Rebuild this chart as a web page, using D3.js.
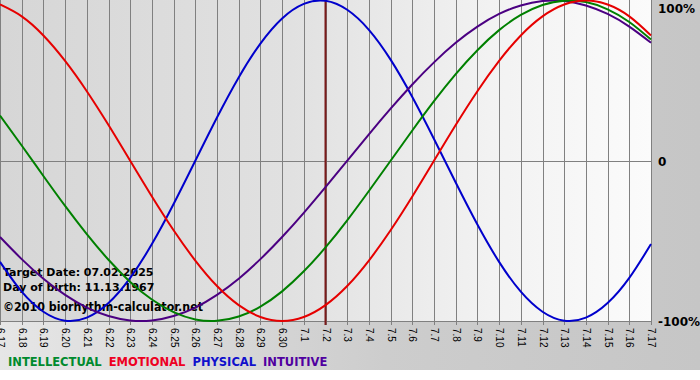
<!DOCTYPE html>
<html><head><meta charset="utf-8">
<script src="https://cdn.jsdelivr.net/npm/d3@7"></script>
<style>html,body{margin:0;padding:0;background:#fff;}svg{display:block;}</style>
</head><body>
<script>
const days = ["6.17","6.18","6.19","6.20","6.21","6.22","6.23","6.24","6.25","6.26","6.27","6.28","6.29","6.30",
  "7.1","7.2","7.3","7.4","7.5","7.6","7.7","7.8","7.9","7.10","7.11","7.12","7.13","7.14","7.15","7.16","7.17"];
const physical = [-0.631,-0.817,-0.942,-0.998,-0.979,-0.888,-0.731,-0.520,-0.270,0,0.270,0.520,0.731,0.888,0.979,0.998,
  0.942,0.817,0.631,0.398,0.136,-0.136,-0.398,-0.631,-0.817,-0.942,-0.998,-0.979,-0.888,-0.731,-0.520];
const emotional = [0.975,0.901,0.782,0.623,0.434,0.223,0,-0.223,-0.434,-0.623,-0.782,-0.901,-0.975,-1,-0.975,-0.901,
  -0.782,-0.623,-0.434,-0.223,0,0.223,0.434,0.623,0.782,0.901,0.975,1,0.975,0.901,0.782];
const intellectual = [0.282,0.095,-0.095,-0.282,-0.458,-0.618,-0.756,-0.866,-0.945,-0.990,-0.999,-0.972,-0.910,-0.815,-0.690,-0.541,
  -0.372,-0.189,0,0.189,0.372,0.541,0.690,0.815,0.910,0.972,0.999,0.990,0.945,0.866,0.756];
const intuitive = [-0.476,-0.614,-0.736,-0.837,-0.916,-0.969,-0.997,-0.997,-0.969,-0.916,-0.837,-0.736,-0.614,-0.476,-0.325,-0.165,
  0,0.165,0.325,0.476,0.614,0.736,0.837,0.916,0.969,0.997,0.997,0.969,0.916,0.837,0.736];
const yTicks = [1, 0, -1];
const yTickLabels = ["100%", "0", "-100%"];
const targetDay = "7.2";
const infoLines = ["Target Date: 07.02.2025", "Day of birth: 11.13.1967"];
const credit = "\u00A92010 biorhythm-calculator.net";
const legendNames = ["INTELLECTUAL", "EMOTIONAL", "PHYSICAL", "INTUITIVE"];

const seriesList = [
  {name: "physical", values: physical, color: "#0000cc"},
  {name: "intuitive", values: intuitive, color: "#4b0082"},
  {name: "intellectual", values: intellectual, color: "#008000"},
  {name: "emotional", values: emotional, color: "#e60000"}
];
const legendColors = {"INTELLECTUAL": "#008a2e", "EMOTIONAL": "#ee0022", "PHYSICAL": "#1010cc", "INTUITIVE": "#5000a0"};

const W = 700, H = 380;
const plot = {left: 0, top: 0, right: 651, bottom: 321};
const svg = d3.select("body").append("svg").attr("width", W).attr("height", H);
const defs = svg.append("defs");

const bgGrad = defs.append("linearGradient").attr("id", "bg").attr("x1", 0).attr("x2", 1).attr("y1", 0).attr("y2", 0);
bgGrad.append("stop").attr("offset", 0).attr("stop-color", "#e6e6e6");
bgGrad.append("stop").attr("offset", 0.55).attr("stop-color", "#cdcdcd");
bgGrad.append("stop").attr("offset", 1).attr("stop-color", "#c6c6c6");
const plotGrad = defs.append("linearGradient").attr("id", "pg").attr("x1", 0).attr("x2", 1).attr("y1", 0).attr("y2", 0);
plotGrad.append("stop").attr("offset", 0).attr("stop-color", "#d6d6d6");
plotGrad.append("stop").attr("offset", 0.45).attr("stop-color", "#e1e1e1");
plotGrad.append("stop").attr("offset", 0.75).attr("stop-color", "#f2f2f2");
plotGrad.append("stop").attr("offset", 1).attr("stop-color", "#fbfbfb");

svg.append("rect").attr("x", 0).attr("y", 0).attr("width", W).attr("height", 370).attr("fill", "url(#bg)");
svg.append("rect").attr("x", plot.left).attr("y", plot.top).attr("width", plot.right - plot.left)
  .attr("height", plot.bottom - plot.top).attr("fill", "url(#pg)");

const x = d3.scalePoint().domain(days).range([plot.left, plot.right]);
const y = d3.scaleLinear().domain([-1, 1]).range([plot.bottom, plot.top + 0.5]);

// vertical grid lines extending below the plot as ticks
const gx = svg.append("g").attr("transform", `translate(0,${plot.bottom + 4})`);
days.forEach(d => {
  gx.append("line").attr("x1", Math.round(x(d)) + 0.5).attr("x2", Math.round(x(d)) + 0.5)
    .attr("y1", -(plot.bottom + 4 - plot.top)).attr("y2", 0)
    .attr("stroke", "#808080").attr("stroke-width", 1);
});
// tick labels (rotated)
days.forEach(d => {
  svg.append("text").attr("transform", `translate(${Math.round(x(d)) + 0.5},${plot.bottom + 7}) rotate(90)`)
    .attr("dy", "0.35em").attr("text-anchor", "start")
    .attr("font-family", "Liberation Sans, Arial, sans-serif")
    .attr("font-size", 10).attr("fill", "#000")
    .text(d);
});
// bottom border
svg.append("line").attr("x1", plot.left).attr("x2", plot.right + 1).attr("y1", plot.bottom + 0.5).attr("y2", plot.bottom + 0.5)
  .attr("stroke", "#808080");
// zero line
svg.append("line").attr("x1", plot.left).attr("x2", plot.right + 1).attr("y1", Math.round(y(0)) + 0.5).attr("y2", Math.round(y(0)) + 0.5)
  .attr("stroke", "#808080");

// right labels
yTicks.forEach((t, i) => {
  svg.append("text").attr("x", 658).attr("y", Math.min(Math.max(y(t), 8), 321) + 1).attr("dy", "0.35em")
    .attr("font-family", "DejaVu Sans, Verdana, sans-serif").attr("font-weight", "bold").attr("font-size", 12)
    .attr("fill", "#000").text(yTickLabels[i]);
});

// target line
svg.append("line").attr("x1", x(targetDay)).attr("x2", x(targetDay)).attr("y1", plot.top).attr("y2", plot.bottom + 4)
  .attr("stroke", "#7a1a1a").attr("stroke-width", 2);

// info text
const infoFont = "DejaVu Sans, Verdana, sans-serif";
infoLines.forEach((t, i) => {
  svg.append("text").attr("x", 3).attr("y", 276 + i * 15).attr("font-family", infoFont)
    .attr("font-weight", "bold").attr("font-size", 11).attr("fill", "#000").text(t);
});
svg.append("text").attr("x", 3).attr("y", 311).attr("font-family", infoFont)
  .attr("font-weight", "bold").attr("font-size", 12.5).attr("fill", "#000")
  .attr("textLength", 200).attr("lengthAdjust", "spacingAndGlyphs").text(credit);

// curves
const line = d3.line().x((d, i) => x(days[i])).y(d => y(d)).curve(d3.curveNatural);
const clip = defs.append("clipPath").attr("id", "clip");
clip.append("rect").attr("x", plot.left).attr("y", plot.top - 2).attr("width", plot.right - plot.left + 2).attr("height", plot.bottom - plot.top + 4);
const gl = svg.append("g").attr("clip-path", "url(#clip)");
seriesList.forEach(s => {
  gl.append("path").datum(s.values).attr("d", line).attr("fill", "none")
    .attr("stroke", s.color).attr("stroke-width", 2);
});

// legend
const lg = svg.append("g");
let lx = 8;
legendNames.forEach(n => {
  const t = lg.append("text").attr("x", lx).attr("y", 366).attr("font-family", infoFont)
    .attr("font-weight", "bold").attr("font-size", 11.5).attr("fill", legendColors[n]).text(n);
  lx += t.node().getComputedTextLength() + 7;
});
</script>
</body></html>
